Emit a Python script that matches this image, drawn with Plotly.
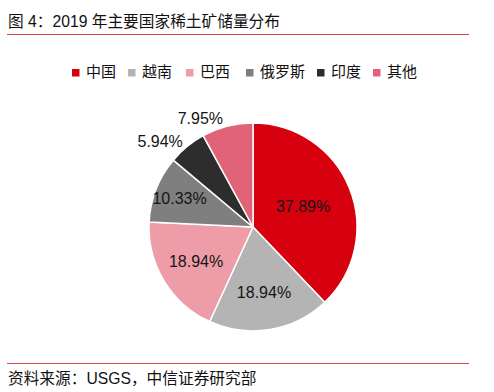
import plotly.graph_objects as go

countries = ["中国", "越南", "巴西", "俄罗斯", "印度", "其他"]
shares = [37.89, 18.94, 18.94, 10.33, 5.94, 7.95]
colors = ["#D7000F", "#B4B4B4", "#EE9DA8", "#7F7F7F", "#2D2D2D", "#E06377"]
text_positions = ["inside", "inside", "inside", "inside", "outside", "outside"]

title_text = "图 4：2019 年主要国家稀土矿储量分布"
source_text = "资料来源：USGS，中信证券研究部"

# layout (pixel positions of the hand-built legend entries)
legend_left_px = [72, 128, 186, 246, 317, 373]
legend_y_px = 72.5

FONT = "Liberation Sans, Arial, Noto Sans CJK SC, sans-serif"
W, H = 494, 392
cx, cy, r = 253, 227, 104


def px_x(v):
    return v / W


def px_y(v):
    return 1 - v / H


fig = go.Figure(go.Pie(
    labels=countries,
    values=shares,
    sort=False,
    direction="clockwise",
    rotation=0,
    marker=dict(colors=colors, line=dict(color="white", width=1.5)),
    texttemplate="%{value:.2f}%",
    textposition=text_positions,
    insidetextfont=dict(family=FONT, size=16, color="#151515"),
    outsidetextfont=dict(family=FONT, size=16, color="#151515"),
    insidetextorientation="horizontal",
    hoverinfo="label+value",
    showlegend=False,
    domain=dict(x=[px_x(cx - r), px_x(cx + r)], y=[px_y(cy + r), px_y(cy - r)]),
))

shapes = [
    dict(type="line", xref="paper", yref="paper", x0=px_x(7), x1=px_x(469),
         y0=px_y(34.5), y1=px_y(34.5), line=dict(color="#D04848", width=1.2)),
    dict(type="line", xref="paper", yref="paper", x0=px_x(7), x1=px_x(469),
         y0=px_y(363.5), y1=px_y(363.5), line=dict(color="#D04848", width=1.2)),
]
annotations = [
    dict(text=title_text, xref="paper", yref="paper", x=px_x(6), y=px_y(21.5),
         xanchor="left", yanchor="middle", showarrow=False,
         font=dict(family=FONT, size=15.7, color="#111111")),
    dict(text=source_text, xref="paper", yref="paper", x=px_x(6), y=px_y(378),
         xanchor="left", yanchor="middle", showarrow=False,
         font=dict(family=FONT, size=15.7, color="#111111")),
]

# legend: colored square + label for each category
for name, col, lx in zip(countries, colors, legend_left_px):
    shapes.append(dict(type="rect", xref="paper", yref="paper",
                       x0=px_x(lx), x1=px_x(lx + 7.5),
                       y0=px_y(legend_y_px + 4), y1=px_y(legend_y_px - 3.5),
                       fillcolor=col, line=dict(width=0)))
    annotations.append(dict(text=name, xref="paper", yref="paper",
                            x=px_x(lx + 12), y=px_y(71),
                            xanchor="left", yanchor="middle", showarrow=False,
                            font=dict(family=FONT, size=15, color="#111111")))

fig.update_layout(
    width=W, height=H,
    margin=dict(l=0, r=0, t=0, b=0),
    paper_bgcolor="white",
    font=dict(family=FONT, color="#111111"),
    showlegend=False,
    uniformtext=dict(mode="show", minsize=16),
    shapes=shapes,
    annotations=annotations,
)

fig.write_html("out.html", config={"displayModeBar": False},
               post_script="document.body.style.margin='0';document.body.style.overflow='hidden';")
